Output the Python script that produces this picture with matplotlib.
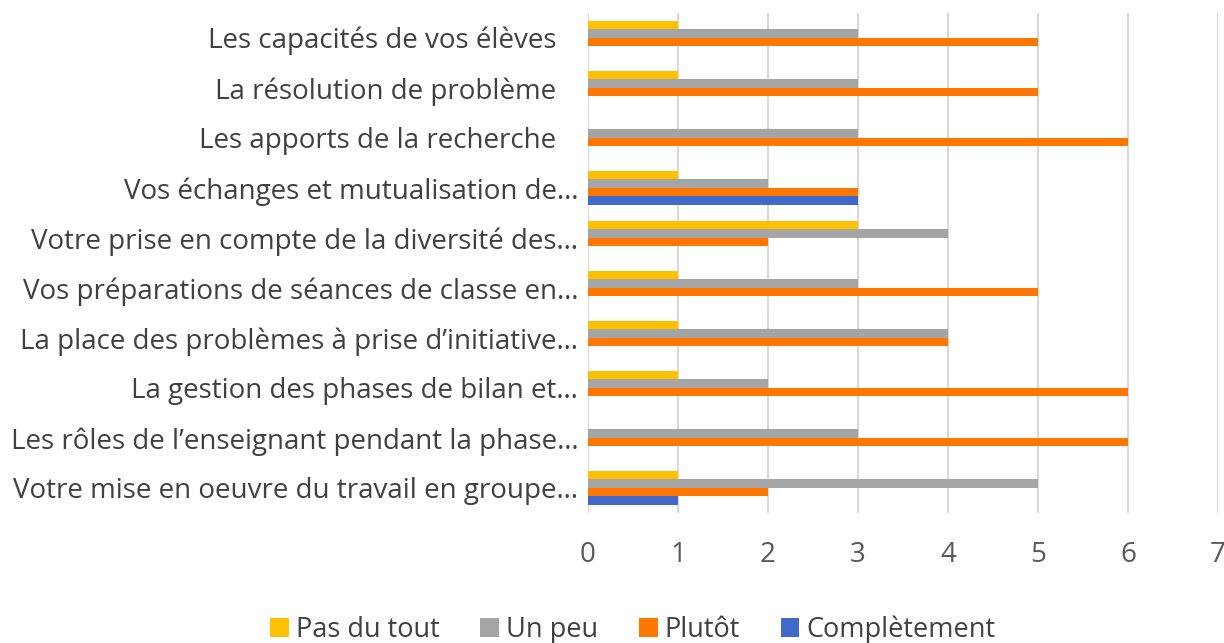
import numpy as np
import matplotlib.pyplot as plt

plt.rcParams['font.family'] = ['Open Sans', 'DejaVu Sans']

# categories, top to bottom
labels = [
    "Les capacités de vos élèves   ",
    "La résolution de problème   ",
    "Les apports de la recherche   ",
    "Vos échanges et mutualisation de…",
    "Votre prise en compte de la diversité des…",
    "Vos préparations de séances de classe en…",
    "La place des problèmes à prise d’initiative…",
    "La gestion des phases de bilan et…",
    "Les rôles de l’enseignant pendant la phase…",
    "Votre mise en oeuvre du travail en groupe…",
]
pas_du_tout = [1, 1, 0, 1, 3, 1, 1, 1, 0, 1]
un_peu = [3, 3, 3, 2, 4, 3, 4, 2, 3, 5]
plutot = [5, 5, 6, 3, 2, 5, 4, 6, 6, 2]
completement = [0, 0, 0, 3, 0, 0, 0, 0, 0, 1]

series = [
    ("Pas du tout", pas_du_tout, "#FFC000"),
    ("Un peu", un_peu, "#A5A5A5"),
    ("Plutôt", plutot, "#FF7700"),
    ("Complètement", completement, "#4169CC"),
]

fig = plt.figure(figsize=(12.24, 6.43), dpi=100)
ax = fig.add_axes([0.4804, 0.2022, 0.5146, 0.778])

y = np.arange(len(labels))
h = 0.17
for i, (name, vals, col) in enumerate(series):
    ax.barh(y + (i - 1.5) * h, vals, height=h, color=col, label=name, zorder=3)

ax.set_ylim(len(labels) - 0.5, -0.5)
ax.set_xlim(0, 7)
ax.set_xticks(range(8))
ax.set_yticks(y)
ax.set_yticklabels(labels)
ax.tick_params(axis='y', length=0, pad=7, labelsize=20, labelcolor='#404040')
ax.tick_params(axis='x', length=0, pad=20, labelsize=20, labelcolor='#595959')
ax.grid(axis='x', color='#D9D9D9', linewidth=1.5, zorder=0)
for s in ax.spines.values():
    s.set_visible(False)

fig.legend(loc='lower center', bbox_to_anchor=(0.517, -0.04), ncol=4, frameon=False,
           fontsize=19.5, handlelength=0.7, handleheight=0.7, handletextpad=0.25,
           columnspacing=1.5, labelcolor='#404040')

fig.savefig("out.png", dpi=100)
